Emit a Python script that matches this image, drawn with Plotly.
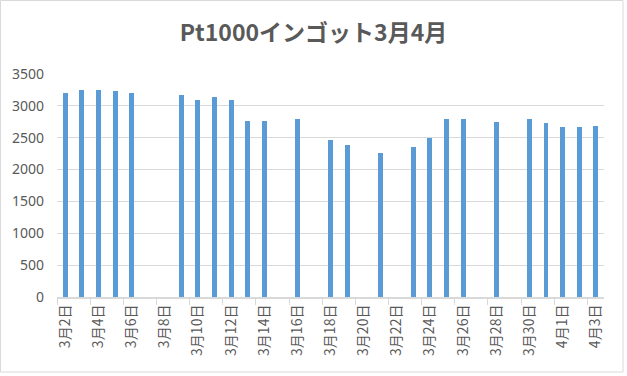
import plotly.graph_objects as go

dates = ["2016-03-02", "2016-03-03", "2016-03-04", "2016-03-05", "2016-03-06",
         "2016-03-09", "2016-03-10", "2016-03-11", "2016-03-12", "2016-03-13",
         "2016-03-14", "2016-03-16", "2016-03-18", "2016-03-19", "2016-03-21",
         "2016-03-23", "2016-03-24", "2016-03-25", "2016-03-26", "2016-03-28",
         "2016-03-30", "2016-03-31", "2016-04-01", "2016-04-02", "2016-04-03"]
prices = [3207, 3254, 3254, 3238, 3207,
          3175, 3097, 3144, 3097, 2766,
          2766, 2798, 2468, 2389, 2263,
          2358, 2499, 2798, 2798, 2751,
          2798, 2735, 2672, 2672, 2688]

tick_dates = ["2016-03-02", "2016-03-04", "2016-03-06", "2016-03-08", "2016-03-10",
              "2016-03-12", "2016-03-14", "2016-03-16", "2016-03-18", "2016-03-20",
              "2016-03-22", "2016-03-24", "2016-03-26", "2016-03-28", "2016-03-30",
              "2016-04-01", "2016-04-03"]
tick_labels = ["3月2日", "3月4日", "3月6日", "3月8日", "3月10日", "3月12日", "3月14日",
               "3月16日", "3月18日", "3月20日", "3月22日", "3月24日", "3月26日",
               "3月28日", "3月30日", "4月1日", "4月3日"]

DAY = 86400000
W, H = 627, 376
L, R, T, B = 57, 23, 74, 79
pw, ph = W - L - R, H - T - B

fig = go.Figure(go.Bar(x=dates, y=prices, width=0.3 * DAY,
                       marker=dict(color="#5b9bd5", line=dict(width=0))))

fig.update_layout(
    width=W, height=H,
    margin=dict(l=L, r=R, t=T, b=B),
    paper_bgcolor="white", plot_bgcolor="white",
    showlegend=False,
    font=dict(family="Noto Sans CJK JP, Noto Sans, sans-serif", color="#595959"),
    title=dict(text="<b>Pt1000インゴット3月4月</b>", x=0.5, xanchor="center",
               y=1 - 33 / H, yanchor="middle",
               font=dict(size=23, color="#595959", family="Noto Sans CJK JP")),
    bargap=0,
)
fig.update_xaxes(
    type="date",
    range=["2016-03-01 12:00", "2016-04-03 12:00"],
    tickvals=tick_dates, ticktext=tick_labels,
    tickangle=-90, ticks="", ticklen=0,
    tickfont=dict(size=14, color="#595959", family="Noto Sans CJK JP"),
    showgrid=False,
    showline=True, linecolor="#d9d9d9", linewidth=2,
    minor=dict(tick0="2016-03-01 12:00", dtick=2 * DAY, ticks="outside",
               ticklen=6, tickcolor="#d9d9d9", tickwidth=1, showgrid=False),
)
fig.update_yaxes(
    range=[0, 3500], dtick=500, tick0=0,
    showgrid=True, gridcolor="#d9d9d9", gridwidth=1,
    zeroline=False, showline=False,
    tickfont=dict(size=14, color="#595959", family="Noto Sans"),
    ticks="", ticklabelstandoff=12,
)
fig.add_shape(type="rect", xref="paper", yref="paper",
              x0=(0.5 - L) / pw, x1=(623 - L) / pw,
              y0=-(372 - (T + ph)) / ph, y1=(T + ph - 0.5) / ph,
              line=dict(color="#d9d9d9", width=1), fillcolor="rgba(0,0,0,0)",
              layer="below")

fig.write_html("out.html", config={"displayModeBar": False},
               post_script="document.body.style.margin='0';")
